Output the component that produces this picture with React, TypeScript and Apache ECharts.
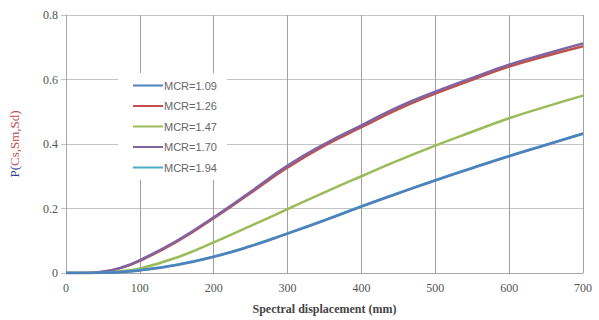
import React, { useEffect, useRef } from "react";
import * as echarts from "echarts";

const xValues = [0, 25, 50, 75, 100, 150, 200, 250, 300, 350, 400, 450, 500, 550, 600, 650, 700];
const seriesNames = ["MCR=1.09", "MCR=1.26", "MCR=1.47", "MCR=1.70", "MCR=1.94"];
const mcr109 = [0, 0, 0.0005, 0.003, 0.008, 0.025, 0.05, 0.083, 0.122, 0.163, 0.206, 0.247, 0.287, 0.325, 0.362, 0.397, 0.432];
const mcr126 = [0, 0.0002, 0.004, 0.016, 0.038, 0.097, 0.17, 0.248, 0.327, 0.395, 0.452, 0.508, 0.556, 0.599, 0.64, 0.673, 0.703];
const mcr147 = [0, 0, 0.001, 0.006, 0.014, 0.048, 0.095, 0.146, 0.198, 0.25, 0.3, 0.349, 0.395, 0.438, 0.48, 0.516, 0.55];
const mcr170 = [0, 0.0002, 0.004, 0.017, 0.04, 0.1, 0.173, 0.252, 0.333, 0.4, 0.458, 0.515, 0.562, 0.605, 0.646, 0.68, 0.712];
const mcr194 = [0, 0, 0.0006, 0.0035, 0.009, 0.026, 0.051, 0.084, 0.123, 0.164, 0.207, 0.248, 0.288, 0.326, 0.363, 0.398, 0.433];
const colors = ["#4F81BD", "#C0504D", "#9BBB59", "#8064A2", "#4BACC6"];

export default function App() {
  const ref = useRef<HTMLDivElement>(null);
  useEffect(() => {
    if (!ref.current) return;
    const chart = echarts.init(ref.current, null, { renderer: "svg" });
    const all = [mcr109, mcr126, mcr147, mcr170, mcr194];
    const zs = [4, 2, 2, 3, 3];
    chart.setOption({
      animation: false,
      backgroundColor: "#ffffff",
      color: colors,
      grid: { left: 66, right: 16, top: 15, bottom: 43, containLabel: false },
      legend: {
        orient: "vertical",
        left: 118,
        top: 73,
        itemWidth: 30,
        itemHeight: 2,
        itemGap: 9.5,
        backgroundColor: "#ffffff",
        padding: [7, 10, 7, 15],
        icon: "rect",
        textStyle: { fontFamily: "Liberation Sans", fontSize: 11, color: "#666", padding: [0, 0, 0, -4] },
        data: seriesNames,
      },
      xAxis: {
        type: "value",
        min: 0,
        max: 700,
        interval: 100,
        name: "Spectral displacement (mm)",
        nameLocation: "middle",
        nameGap: 30,
        nameTextStyle: { fontFamily: "Liberation Serif", fontWeight: "bold", fontSize: 12, color: "#444" },
        axisLine: { show: true, lineStyle: { color: "#a6a6a6", width: 1 } },
        axisTick: { show: false },
        axisLabel: { fontFamily: "Liberation Serif", fontSize: 12, color: "#555", margin: 9 },
        splitLine: { show: true, lineStyle: { color: "#a0a0a0", width: 1 } },
      },
      yAxis: {
        type: "value",
        min: 0,
        max: 0.8,
        interval: 0.2,
        name: "{a|P(}{b|Cs,Sm,Sd)}",
        nameLocation: "middle",
        nameGap: 45,
        nameTextStyle: {
          rich: {
            a: { fontFamily: "Liberation Serif", fontSize: 13, color: "#2f3f8f" },
            b: { fontFamily: "Liberation Serif", fontSize: 13, color: "#c0504d" },
          },
        },
        axisLine: { show: true, lineStyle: { color: "#a6a6a6", width: 1 } },
        axisTick: { show: true, length: 5, lineStyle: { color: "#c4c4c4", width: 1.2 } },
        axisLabel: {
          fontFamily: "Liberation Serif",
          fontSize: 12,
          color: "#555",
          margin: 8,
          formatter: (v: number) => (v === 0 ? "0" : String(Math.round(v * 10) / 10)),
        },
        splitLine: { show: true, lineStyle: { color: "#c4c4c4", width: 1.2 } },
      },
      series: seriesNames.map((n, i) => ({
        name: n,
        type: "line",
        smooth: true,
        showSymbol: false,
        z: zs[i],
        lineStyle: { width: 2.5, color: colors[i] },
        data: xValues.map((x, j) => [x, all[i][j]]),
      })),
    });
    return () => chart.dispose();
  }, []);
  return (
    <div style={{ position: "fixed", left: 0, top: 0, width: 599, height: 320 }}>
      <div ref={ref} style={{ width: 599, height: 320 }} />
    </div>
  );
}
